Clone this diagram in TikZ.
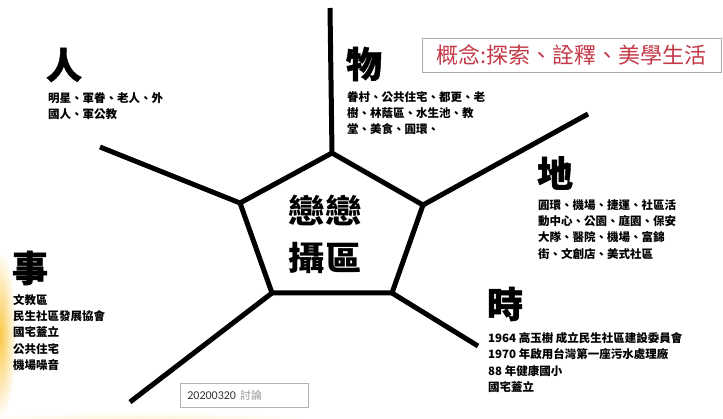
\documentclass[tikz,border=0pt]{standalone}
\usepackage{fontspec}
\newfontfamily\cjk{Noto Sans CJK TC}
\newfontfamily\cjkheavy{Noto Sans CJK TC}[BoldFeatures={FakeBold=1.2}]
\newfontfamily\carl{Carlito}
\definecolor{conceptred}{RGB}{196,58,72}
\definecolor{glow}{RGB}{250,200,70}
\begin{document}
\begin{tikzpicture}[x=1pt,y=-1pt,
  spoke/.style={line width=5pt,line cap=butt},
  head/.style={font=\cjkheavy\bfseries\fontsize{36}{36}\selectfont,anchor=center,inner sep=0},
  body/.style={font=\cjk\bfseries\fontsize{11.5}{16.4}\selectfont,anchor=north west,align=left,inner sep=0},
  centre/.style={font=\cjk\bfseries\fontsize{33}{33}\selectfont,anchor=center,inner sep=0},
]
\useasboundingbox (0,0) rectangle (723,419);
\fill[white] (0,0) rectangle (723,419);
% background glow of the slide
\shade[inner color=glow, outer color=white] (0,335) ellipse [x radius=16, y radius=85];
\shade[inner color=glow!30, outer color=white] (140,423) ellipse [x radius=190, y radius=11];

% pentagon
\coordinate (pT) at (332,153);
\coordinate (pR) at (423,205);
\coordinate (pBR) at (392,293);
\coordinate (pBL) at (272,293);
\coordinate (pL) at (240,203);
\coordinate (eT) at (330,8);
\coordinate (eR) at (588,114);
\coordinate (eBR) at (478,346);
\coordinate (eBL) at (130,402);
\coordinate (eL) at (100,147);
\draw[spoke,line join=miter] (pT)--(pR)--(pBR)--(pBL)--(pL)--cycle;
\draw[spoke] (pT)--(eT);
\draw[spoke] (pR)--(eR);
\draw[spoke] (pBR)--(eBR);
\draw[spoke] (pBL)--(eBL);
\draw[spoke] (pL)--(eL);

% centre text
\node[centre] (c1) at (325,210) {\scalebox{1.1}[1]{戀戀}};
\node[centre] (c2) at (325,258) {\scalebox{1.1}[1]{攝區}};

% headings
\node[head] (hRen) at (64,65) {人};
\node[head] (hWu) at (364,64) {物};
\node[head] (hDi) at (555,173) {地};
\node[head] (hShi) at (30,268) {事};
\node[head] (hShi2) at (505,304) {時};

% bodies
\node[body] (bRen) at (48,92) {明星、軍眷、老人、外\\國人、軍公教};
\node[body] (bWu) at (347,91) {眷村、公共住宅、都更、老\\樹、林蔭區、水生池、教\\堂、美食、圓環、};
\node[body] (bDi) at (538,199) {圓環、機場、捷運、社區活\\動中心、公園、庭園、保安\\大隊、醫院、機場、富錦\\街、文創店、美式社區};
\node[body] (bShi) at (13,294) {文教區\\民生社區發展協會\\國宅蓋立\\公共住宅\\機場噪音};
\node[body] (bShi2) at (488,332) {1964 高玉樹 成立民生社區建設委員會\\1970 年啟用台灣第一座污水處理廠\\88 年健康國小\\國宅蓋立};

% concept box
\node[draw=gray!65,line width=0.8pt,minimum width=299pt,minimum height=34pt,inner sep=0,
      text=conceptred,font=\cjk\fontsize{22}{22}\selectfont] (concept) at (571.5,55.5) {概念:探索、詮釋、美學生活};

% date box
\node[draw=gray!60,line width=0.7pt,anchor=north west,text width=114pt,inner xsep=7pt,inner ysep=0,
      minimum height=24pt,align=left,font=\carl\fontsize{12}{12}\selectfont,text=black!80] (date) at (180,383)
      {20200320 {\cjk\fontsize{11}{11}\selectfont\color{gray!80}討論}};
\end{tikzpicture}
\end{document}
